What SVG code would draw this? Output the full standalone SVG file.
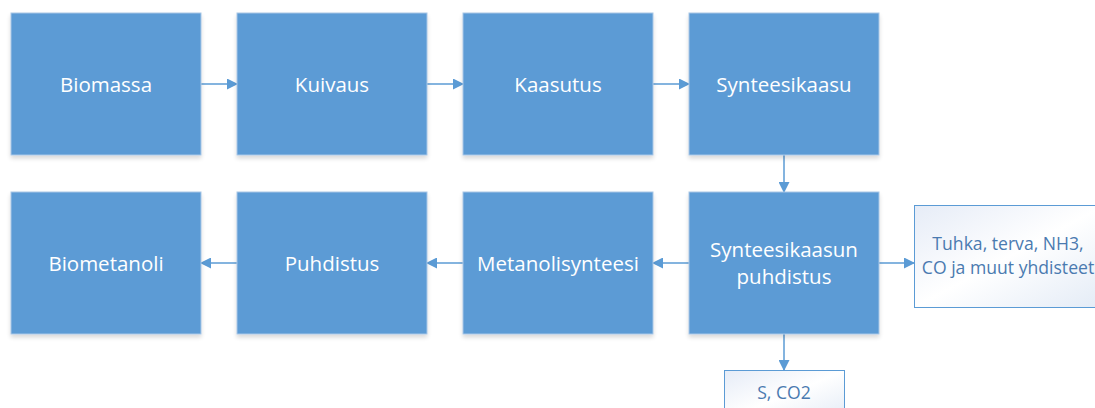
<svg xmlns="http://www.w3.org/2000/svg" width="1095" height="408" viewBox="0 0 1095 408">
<defs>
<linearGradient id="lg" x1="0" y1="0" x2="1" y2="1">
<stop offset="0" stop-color="#e6ecf7"/>
<stop offset="0.5" stop-color="#ffffff"/>
<stop offset="1" stop-color="#e3ebf6"/>
</linearGradient>
<filter id="sh" x="-10%" y="-10%" width="120%" height="130%">
<feGaussianBlur in="SourceAlpha" stdDeviation="2"/>
<feOffset dy="3"/>
<feComponentTransfer><feFuncA type="linear" slope="0.15"/></feComponentTransfer>
<feMerge><feMergeNode/><feMergeNode in="SourceGraphic"/></feMerge>
</filter>
<marker id="ah" markerWidth="11" markerHeight="11" refX="10" refY="5.5" orient="auto" markerUnits="userSpaceOnUse">
<path d="M0,0 L11,5.5 L0,11 Z" fill="#5b9bd5"/>
</marker>
</defs>
<style>
.b{fill:#5b9bd5;stroke:#a9c6e6;stroke-width:1;filter:url(#sh)}
.o{fill:url(#lg);stroke:#5b9bd5;stroke-width:1}
.t{font-family:"Open Sans","Liberation Sans",sans-serif;font-size:20.5px;fill:#ffffff;text-anchor:middle}
.u{font-family:"Open Sans","Liberation Sans",sans-serif;font-size:17.6px;fill:#4a7ab0;text-anchor:middle}
.c{stroke:#5b9bd5;stroke-width:1.5;fill:none;marker-end:url(#ah)}
</style>
<rect width="1095" height="408" fill="#ffffff"/>
<g id="connectors">
<line class="c" x1="201" y1="84" x2="237" y2="84"/>
<line class="c" x1="427" y1="84" x2="463" y2="84"/>
<line class="c" x1="653" y1="84" x2="689" y2="84"/>
<line class="c" x1="784" y1="155" x2="784" y2="192"/>
<line class="c" x1="689" y1="263" x2="653" y2="263"/>
<line class="c" x1="463" y1="263" x2="427" y2="263"/>
<line class="c" x1="237" y1="263" x2="201" y2="263"/>
<line class="c" x1="879" y1="263" x2="914" y2="263"/>
<line class="c" x1="784" y1="334" x2="784" y2="370"/>
</g>
<g id="biomassa"><rect class="b" x="11" y="13" width="190" height="142"/><text class="t" x="106" y="92">Biomassa</text></g>
<g id="kuivaus"><rect class="b" x="237" y="13" width="190" height="142"/><text class="t" x="332" y="92">Kuivaus</text></g>
<g id="kaasutus"><rect class="b" x="463" y="13" width="190" height="142"/><text class="t" x="558" y="92">Kaasutus</text></g>
<g id="synteesikaasu"><rect class="b" x="689" y="13" width="190" height="142"/><text class="t" x="784" y="92">Synteesikaasu</text></g>
<g id="biometanoli"><rect class="b" x="11" y="192" width="190" height="142"/><text class="t" x="106" y="271">Biometanoli</text></g>
<g id="puhdistus"><rect class="b" x="237" y="192" width="190" height="142"/><text class="t" x="332" y="271">Puhdistus</text></g>
<g id="metanolisynteesi"><rect class="b" x="463" y="192" width="190" height="142"/><text class="t" x="558" y="271">Metanolisynteesi</text></g>
<g id="synteesikaasun-puhdistus"><rect class="b" x="689" y="192" width="190" height="142"/><text class="t" x="784" y="257">Synteesikaasun</text><text class="t" x="784" y="284">puhdistus</text></g>
<g id="tuhka"><rect class="o" x="914.5" y="205.5" width="190" height="102"/><text class="u" x="1008" y="250">Tuhka, terva, NH3,</text><text class="u" x="1008" y="274">CO ja muut yhdisteet</text></g>
<g id="s-co2"><rect class="o" x="724.5" y="370.5" width="120" height="50"/><text class="u" x="784" y="399">S, CO2</text></g>
</svg>
